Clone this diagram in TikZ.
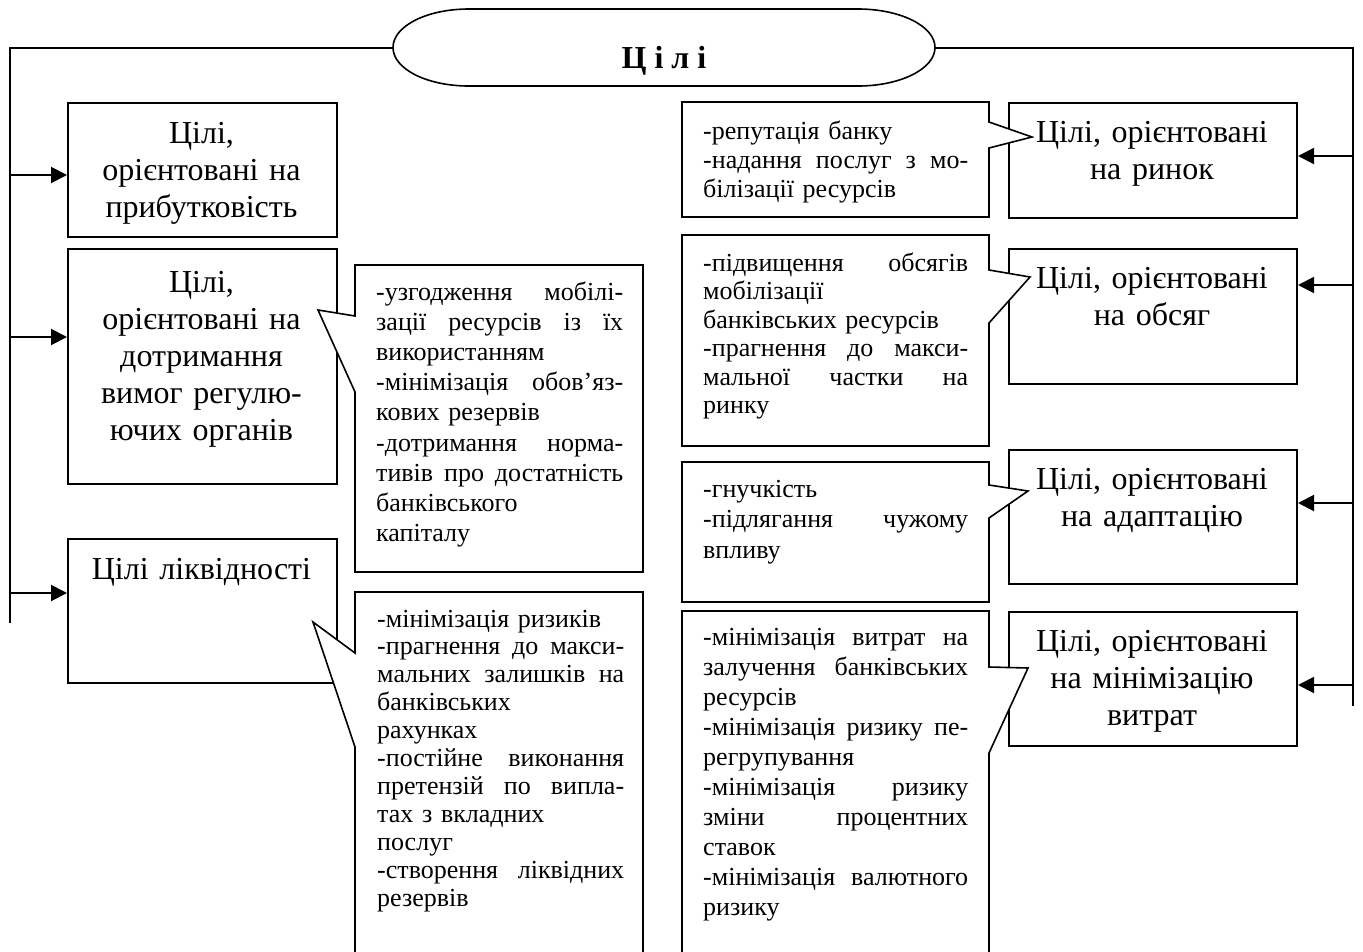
\documentclass[tikz,border=0pt]{standalone}
\usepackage{fontspec}
\setmainfont{Liberation Serif}
\usetikzlibrary{arrows.meta}
\def\jlwidth{247pt}
\newcommand\jl[1]{\leavevmode\hbox to \jlwidth{\spaceskip=\fontdimen2\font plus 1fil\relax #1}}
\newcommand\bigf{\fontsize{32}{37}\selectfont}
\begin{document}
\begin{tikzpicture}[x=1pt,y=-1pt,
  box/.style={draw, line width=2pt, fill=white, inner sep=0pt, anchor=north west},
  callout/.style={draw, line width=1.6pt, fill=white, line join=miter},
  bigtxt/.style={font=\bigf, text width=280pt, align=center, inner sep=0pt, anchor=base},
  smalltxt/.style={inner sep=0pt, anchor=base west, align=left},
  trunk/.style={line width=2pt},
  arr/.style={line width=2pt, -{Triangle[length=16pt,width=16pt]}},
  titleshape/.style={draw, line width=1.6pt, fill=white}]
\useasboundingbox (0,0) rectangle (1363,951);

% title
\coordinate (tl) at (393,47.5);
\coordinate (tr) at (935,47.5);
\draw[titleshape] (469,9) -- (858,9) .. controls (900.5,9) and (935,26.2) .. (tr)
  .. controls (935,68.8) and (900.5,86) .. (858,86) -- (469,86)
  .. controls (426.5,86) and (393,68.8) .. (tl)
  .. controls (393,26.2) and (426.5,9) .. (469,9) -- cycle;
\node[font=\fontsize{32}{36}\bfseries\selectfont, anchor=base, inner sep=0pt] (ttl) at (664,68) {Ц і л і};

% trunks
\coordinate (ltop) at (10,47.5);
\coordinate (lbot) at (10,623);
\coordinate (rtop) at (1353,47.5);
\coordinate (rbot) at (1353,706);
\draw[trunk] (tl) -- (ltop) -- (lbot);
\draw[trunk] (tr) -- (rtop) -- (rbot);

% left boxes
\node[box, minimum width=269pt, minimum height=134pt] (b1) at (67,102) {};
\node[box, minimum width=269pt, minimum height=235pt] (b2) at (67,248) {};
\node[box, minimum width=269pt, minimum height=144pt] (b3) at (67,538) {};
\node[bigtxt] (b1t) at (201.5,143) {Цілі,\\орієнтовані на\\прибутковість};
\node[bigtxt] (b2t) at (201.5,292) {Цілі,\\орієнтовані на\\дотримання\\вимог регулю-\\ючих органів};
\node[bigtxt] (b3t) at (201.5,579) {Цілі ліквідності};

% right boxes
\node[box, minimum width=288pt, minimum height=115pt] (r1) at (1008,102) {};
\node[box, minimum width=288pt, minimum height=135pt] (r2) at (1008,248) {};
\node[box, minimum width=288pt, minimum height=134pt] (r3) at (1008,449) {};
\node[box, minimum width=288pt, minimum height=134pt] (r4) at (1008,611) {};
\node[bigtxt] (r1t) at (1152,142) {Цілі, орієнтовані\\на ринок};
\node[bigtxt] (r2t) at (1152,288) {Цілі, орієнтовані\\на обсяг};
\node[bigtxt] (r3t) at (1152,489) {Цілі, орієнтовані\\на адаптацію};
\node[bigtxt] (r4t) at (1152,651) {Цілі, орієнтовані\\на мінімізацію\\витрат};

% arrows
\coordinate (la1) at (10,175);
\coordinate (la2) at (10,337);
\coordinate (la3) at (10,593);
\draw[arr] (la1) -- (la1 -| b1.west);
\draw[arr] (la2) -- (la2 -| b2.west);
\draw[arr] (la3) -- (la3 -| b3.west);
\coordinate (ra1) at (1353,156);
\coordinate (ra2) at (1353,285);
\coordinate (ra3) at (1353,503);
\coordinate (ra4) at (1353,685);
\draw[arr] (ra1) -- (ra1 -| r1.east);
\draw[arr] (ra2) -- (ra2 -| r2.east);
\draw[arr] (ra3) -- (ra3 -| r3.east);
\draw[arr] (ra4) -- (ra4 -| r4.east);

% callouts left
\draw[callout] (355,265) -- (643,265) -- (643,572) -- (355,572) -- (355,392) -- (318,310) -- (355,316) -- cycle;
\draw[callout] (355,592) -- (643,592) -- (643,960) -- (355,960) -- (355,747) -- (313,622) -- (355,653) -- cycle;
% callouts right
\draw[callout] (682,102) -- (989,102) -- (989,122) -- (1032,137) -- (989,148) -- (989,217) -- (682,217) -- cycle;
\draw[callout] (682,235) -- (989,235) -- (989,270) -- (1030,277) -- (989,323) -- (989,446) -- (682,446) -- cycle;
\draw[callout] (682,462) -- (989,462) -- (989,485) -- (1028,491) -- (989,518) -- (989,602) -- (682,602) -- cycle;
\draw[callout] (682,611) -- (989,611) -- (989,667) -- (1028,668) -- (989,753) -- (989,960) -- (682,960) -- cycle;

% callout texts
\node[smalltxt, text width=247pt, font=\fontsize{26}{30.2}\selectfont\def\jlwidth{247pt}] (c1t) at (376,300) {%
\jl{-узгодження мобілі-}\\
\jl{зації ресурсів із їх}\\
використанням\\
\jl{-мінімізація обов’яз-}\\
кових резервів\\
\jl{-дотримання норма-}\\
\jl{тивів про достатність}\\
банківського\\
капіталу};
\node[smalltxt, text width=247pt, font=\fontsize{26}{27.9}\selectfont\def\jlwidth{247pt}] (c2t) at (377,627) {%
-мінімізація ризиків\\
\jl{-прагнення до макси-}\\
\jl{мальних залишків на}\\
банківських\\
рахунках\\
\jl{-постійне виконання}\\
\jl{претензій по випла-}\\
тах з вкладних\\
послуг\\
\jl{-створення ліквідних}\\
резервів};
\node[smalltxt, text width=265pt, font=\fontsize{26}{29.3}\selectfont\def\jlwidth{265pt}] (cat) at (703,139) {%
-репутація банку\\
\jl{-надання послуг з мо-}\\
білізації ресурсів};
\node[smalltxt, text width=265pt, font=\fontsize{26}{28.5}\selectfont\def\jlwidth{265pt}] (cbt) at (703,271) {%
\jl{-підвищення обсягів}\\
мобілізації\\
банківських ресурсів\\
\jl{-прагнення до макси-}\\
\jl{мальної частки на}\\
ринку};
\node[smalltxt, text width=265pt, font=\fontsize{26}{30.5}\selectfont\def\jlwidth{265pt}] (cct) at (703,497) {%
-гнучкість\\
\jl{-підлягання чужому}\\
впливу};
\node[smalltxt, text width=265pt, font=\fontsize{26}{30}\selectfont\def\jlwidth{265pt}] (cdt) at (703,645) {%
\jl{-мінімізація витрат на}\\
\jl{залучення банківських}\\
ресурсів\\
\jl{-мінімізація ризику пе-}\\
регрупування\\
\jl{-мінімізація ризику}\\
\jl{зміни процентних}\\
ставок\\
\jl{-мінімізація валютного}\\
ризику};
\end{tikzpicture}
\end{document}
